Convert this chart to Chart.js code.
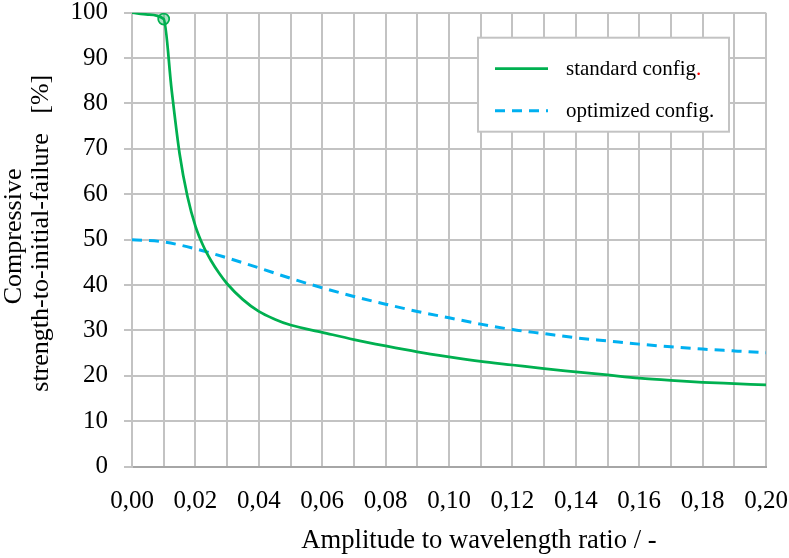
<!DOCTYPE html>
<html>
<head>
<meta charset="utf-8">
<style>
  html, body { margin: 0; padding: 0; background: #ffffff; }
  #wrap { width: 789px; height: 558px; }
</style>
<script src="https://cdn.jsdelivr.net/npm/chart.js@4.4.1/dist/chart.umd.min.js"></script>
</head>
<body>
<div id="wrap"><canvas id="chart" width="789" height="558"></canvas></div>
<script>
// Amplitude-to-wavelength ratio vs. compressive strength-to-initial-failure
const ratioStandard = [0, 0.005, 0.01, 0.0125, 0.015, 0.0175, 0.02, 0.0225, 0.025, 0.0275, 0.03, 0.035,
  0.04, 0.045, 0.05, 0.06, 0.07, 0.08, 0.09, 0.10, 0.11, 0.12, 0.13, 0.14, 0.15, 0.16, 0.17, 0.18, 0.19, 0.20];
const strengthStandard = [100, 99.6, 98.6, 83, 69, 59.5, 53, 48.6, 45.3, 42.6, 40.3, 36.8,
  34.2, 32.5, 31.2, 29.6, 28.0, 26.6, 25.3, 24.2, 23.2, 22.4, 21.6, 20.9, 20.2, 19.5, 19.0, 18.6, 18.3, 18.0];

const ratioOptimized = [0, 0.01, 0.02, 0.03, 0.04, 0.05, 0.06, 0.07, 0.08, 0.09, 0.10,
  0.11, 0.12, 0.13, 0.14, 0.15, 0.16, 0.17, 0.18, 0.19, 0.20];
const strengthOptimized = [50.0, 49.5, 48.0, 46.0, 43.8, 41.5, 39.4, 37.5, 35.8, 34.2, 32.8,
  31.4, 30.2, 29.3, 28.4, 27.7, 27.0, 26.4, 25.9, 25.5, 25.1];

const seriesNames = ['standard config.', 'optimized config.'];
const xTickLabels = ['0,00', '0,02', '0,04', '0,06', '0,08', '0,10', '0,12', '0,14', '0,16', '0,18', '0,20'];
const markedRatio = 0.01;   // initial-failure point highlighted on the standard curve

const SERIF = "'Liberation Serif', 'Times New Roman', serif";
const GRID = '#C3C3C3';

const toPoints = (xs, ys) => xs.map((x, i) => ({ x: x, y: ys[i] }));

// Framed legend inside the plot, top right
const framedLegend = {
  id: 'framedLegend',
  afterDraw(chart) {
    const { ctx, chartArea } = chart;
    const w = 251, h = 94;
    const x = chartArea.right - 37 - w;
    const y = chartArea.top + 25;
    ctx.save();
    ctx.fillStyle = '#ffffff';
    ctx.fillRect(x, y, w, h);
    ctx.strokeStyle = GRID;
    ctx.lineWidth = 2;
    ctx.strokeRect(x, y, w, h);
    chart.data.datasets.forEach((ds, i) => {
      const ly = y + 31 + i * 42;
      ctx.strokeStyle = ds.borderColor;
      ctx.lineWidth = ds.borderWidth;
      ctx.setLineDash(ds.borderDash || []);
      ctx.beginPath();
      ctx.moveTo(x + 17, ly);
      ctx.lineTo(x + 70, ly);
      ctx.stroke();
      ctx.setLineDash([]);
      ctx.font = '21px ' + SERIF;
      ctx.textBaseline = 'alphabetic';
      ctx.textAlign = 'left';
      let text = ds.label;
      const accent = ds.accentSuffix || '';
      if (accent && text.endsWith(accent)) text = text.slice(0, -accent.length);
      ctx.fillStyle = '#000000';
      ctx.fillText(text, x + 88, ly + 6);
      if (accent) {
        ctx.fillStyle = '#FF0000';
        ctx.fillText(accent, x + 88 + ctx.measureText(text).width, ly + 6);
      }
    });
    ctx.restore();
  }
};

new Chart(document.getElementById('chart'), {
  type: 'line',
  data: {
    datasets: [
      {
        label: seriesNames[0],
        accentSuffix: '.',
        data: toPoints(ratioStandard, strengthStandard),
        borderColor: '#00B050',
        borderWidth: 2.75,
        cubicInterpolationMode: 'monotone',
        pointRadius: (c) => (c.raw && c.raw.x === markedRatio ? 5.5 : 0),
        pointBackgroundColor: 'rgba(0,176,80,0.35)',
        pointBorderColor: '#00B050',
        pointBorderWidth: 1.75,
        fill: false
      },
      {
        label: seriesNames[1],
        data: toPoints(ratioOptimized, strengthOptimized),
        borderColor: '#00B0F0',
        borderWidth: 3,
        borderDash: [10, 7],
        cubicInterpolationMode: 'monotone',
        pointRadius: 0,
        fill: false
      }
    ]
  },
  options: {
    responsive: false,
    animation: false,
    devicePixelRatio: 1,
    layout: { padding: { top: 12.7, right: 23, bottom: 0, left: 0 } },
    plugins: {
      legend: { display: false },
      tooltip: { enabled: false }
    },
    scales: {
      x: {
        type: 'linear',
        min: 0,
        max: 0.2,
        afterFit: (s) => { s.height = 91.3; s.paddingLeft = 0; s.paddingRight = 0; },
        ticks: {
          stepSize: 0.01,
          autoSkip: false,
          maxRotation: 0,
          padding: 20,
          color: '#000000',
          font: { family: SERIF, size: 25, lineHeight: 1.2 },
          callback: (v, i) => (i % 2 === 0 ? xTickLabels[i / 2] : '')
        },
        grid: { color: GRID, lineWidth: 2, drawTicks: false },
        border: { color: '#A6A6A6', width: 2 },
        title: {
          display: true,
          text: '         Amplitude to wavelength ratio / -',
          color: '#000000',
          font: { family: SERIF, size: 26.6, lineHeight: 1.2 },
          padding: { top: 0, bottom: 1.5 }
        }
      },
      y: {
        min: 0,
        max: 100,
        afterFit: (s) => { s.width = 132; s.paddingTop = 0; s.paddingBottom = 0; },
        ticks: {
          stepSize: 10,
          padding: 16,
          color: '#000000',
          font: { family: SERIF, size: 25, lineHeight: 1.2 }
        },
        grid: { color: GRID, lineWidth: 2, tickLength: 8, tickColor: GRID },
        border: { color: GRID, width: 2 },
        title: {
          display: true,
          text: [' Compressive', '  strength-to-initial-failure   [%]'],
          color: '#000000',
          font: { family: SERIF, size: 26, lineHeight: 1.05 },
          padding: { top: 0.5, bottom: 0 }
        }
      }
    }
  },
  plugins: [framedLegend]
});
</script>
</body>
</html>
